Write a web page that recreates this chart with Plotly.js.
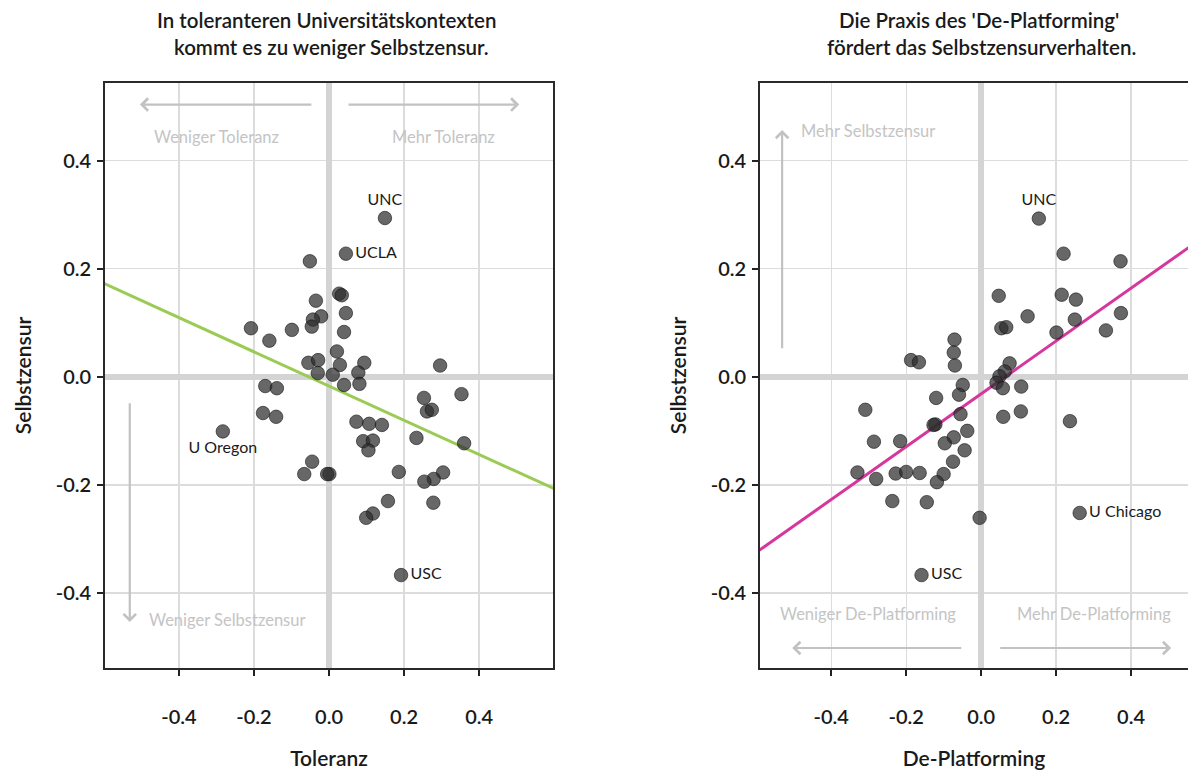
<!DOCTYPE html>
<html>
<head>
<meta charset="utf-8">
<script src="https://cdn.plot.ly/plotly-3.0.1.min.js"></script>
<style>html,body{margin:0;padding:0;background:#fff;}#chart{width:1188px;height:771px;}</style>
</head>
<body>
<div id="chart"></div>
<script>
// ---- Left panel: Toleranz vs. Selbstzensur (labelled points first) ----
var tolNames = ['UNC', 'UCLA', 'U Oregon', 'USC'];
var tolTextPos = ['top center', 'middle right', 'bottom center', 'middle right'];
var tolX = [0.149, 0.045, -0.283, 0.192, -0.051, 0.027, 0.034, -0.035, 0.045, -0.021, -0.043, -0.046, -0.208, -0.099, 0.040, -0.159, 0.021, -0.055, -0.029, 0.029, 0.094, -0.030, 0.010, 0.078, 0.040, 0.081, 0.296, -0.170, -0.139, -0.176, -0.141, 0.253, 0.353, 0.261, 0.274, 0.073, 0.107, 0.141, 0.233, 0.360, 0.091, 0.117, 0.105, -0.045, -0.066, 0.001, -0.005, 0.186, 0.304, 0.279, 0.254, 0.157, 0.278, 0.117, 0.099];
var tolY = [0.294, 0.228, -0.101, -0.367, 0.214, 0.154, 0.151, 0.141, 0.118, 0.112, 0.106, 0.093, 0.090, 0.087, 0.083, 0.067, 0.047, 0.026, 0.031, 0.022, 0.026, 0.007, 0.004, 0.008, -0.015, -0.013, 0.021, -0.017, -0.021, -0.067, -0.074, -0.039, -0.032, -0.064, -0.061, -0.083, -0.087, -0.089, -0.113, -0.123, -0.119, -0.118, -0.136, -0.157, -0.180, -0.180, -0.180, -0.176, -0.177, -0.189, -0.194, -0.230, -0.233, -0.253, -0.261];
var tolFitX = [-0.6, 0.6];
var tolFitY = [0.173, -0.207];

// ---- Right panel: De-Platforming vs. Selbstzensur (labelled points first) ----
var depNames = ['UNC', 'U Chicago', 'USC'];
var depTextPos = ['top center', 'middle right', 'middle right'];
var depX = [0.154, 0.263, -0.159, 0.220, 0.372, 0.047, 0.215, 0.253, 0.124, 0.250, 0.373, 0.054, 0.067, 0.201, 0.333, 0.076, 0.063, 0.049, 0.041, 0.058, 0.107, 0.059, 0.106, 0.237, -0.071, -0.073, -0.070, -0.187, -0.166, -0.049, -0.059, -0.120, -0.309, -0.055, -0.122, -0.127, -0.037, -0.073, -0.097, -0.286, -0.216, -0.044, -0.075, -0.330, -0.280, -0.228, -0.200, -0.164, -0.100, -0.118, -0.237, -0.145, -0.004];
var depY = [0.293, -0.252, -0.367, 0.228, 0.214, 0.150, 0.152, 0.143, 0.112, 0.106, 0.118, 0.090, 0.092, 0.082, 0.086, 0.025, 0.010, 0.001, -0.011, -0.021, -0.018, -0.074, -0.064, -0.082, 0.069, 0.045, 0.021, 0.031, 0.027, -0.015, -0.033, -0.039, -0.061, -0.069, -0.088, -0.089, -0.100, -0.112, -0.123, -0.120, -0.119, -0.136, -0.157, -0.177, -0.189, -0.179, -0.176, -0.178, -0.180, -0.195, -0.230, -0.232, -0.261];
var depFitX = [-0.6, 0.6];
var depFitY = [-0.325, 0.262];

var tickVals = [-0.4, -0.2, 0.0, 0.2, 0.4];
var tickText = ['-0.4', '-0.2', '0.0', '0.2', '0.4'];

var FONT = 'Lato, "Open Sans", "DejaVu Sans", sans-serif';
var markerStyle = {size: 13.5, color: 'rgba(45,45,45,0.72)', line: {width: 1, color: 'rgba(20,20,20,0.6)'}};
var labelFont = {family: FONT, size: 16, color: '#1a1a1a'};

function texts(names, n) { var t = []; for (var i = 0; i < n; i++) t.push(names[i] || ''); return t; }
function positions(pos, n) { var t = []; for (var i = 0; i < n; i++) t.push(pos[i] || 'top center'); return t; }

var traces = [
  {x: tolFitX, y: tolFitY, mode: 'lines', line: {color: '#9bcb54', width: 3}, xaxis: 'x', yaxis: 'y', hoverinfo: 'skip', showlegend: false},
  {x: tolX, y: tolY, mode: 'markers+text', text: texts(tolNames, tolX.length), textposition: positions(tolTextPos, tolX.length),
   textfont: labelFont, marker: markerStyle, xaxis: 'x', yaxis: 'y', showlegend: false, cliponaxis: false},
  {x: depFitX, y: depFitY, mode: 'lines', line: {color: '#d6379c', width: 3}, xaxis: 'x2', yaxis: 'y2', hoverinfo: 'skip', showlegend: false},
  {x: depX, y: depY, mode: 'markers+text', text: texts(depNames, depX.length), textposition: positions(depTextPos, depX.length),
   textfont: labelFont, marker: markerStyle, xaxis: 'x2', yaxis: 'y2', showlegend: false}
];

function xAxis(domain, range, title, mirror) {
  return {
    domain: domain, range: range, tickvals: tickVals, ticktext: tickText,
    ticks: 'outside', ticklen: 6, tickwidth: 1.5, tickcolor: '#222',
    ticklabelstandoff: 24,
    tickfont: {family: FONT, size: 20, color: '#1a1a1a', weight: 600},
    showgrid: true, gridcolor: '#dcdcdc', gridwidth: 1.3,
    zeroline: true, zerolinecolor: '#d4d4d4', zerolinewidth: 6,
    showline: true, linecolor: '#2a2a2a', linewidth: 1.8, mirror: mirror,
    title: {text: title, font: {family: FONT, size: 21, color: '#1a1a1a', weight: 600}, standoff: 24},
    fixedrange: true
  };
}
function yAxis(anchor, title, mirror) {
  return {
    anchor: anchor, domain: [0, 1], range: [-0.539, 0.544], tickvals: tickVals, ticktext: tickText,
    ticks: 'outside', ticklen: 6, tickwidth: 1.5, tickcolor: '#222',
    ticklabelstandoff: 2,
    tickfont: {family: FONT, size: 20, color: '#1a1a1a', weight: 600},
    showgrid: true, gridcolor: '#dcdcdc', gridwidth: 1.3,
    zeroline: true, zerolinecolor: '#d4d4d4', zerolinewidth: 6,
    showline: true, linecolor: '#2a2a2a', linewidth: 1.8, mirror: mirror,
    title: {text: title, font: {family: FONT, size: 21, color: '#1a1a1a', weight: 600}, standoff: 18},
    fixedrange: true
  };
}

var guideColor = '#c2c2c2';
var guideFont = {family: FONT, size: 16.5, color: '#c4c4c4'};
function arrow(xr, yr, x, y, ax, ay) {
  return {xref: xr, yref: yr, axref: xr, ayref: yr, x: x, y: y, ax: ax, ay: ay, text: '',
          showarrow: true, arrowhead: 4, arrowsize: 1.1, arrowwidth: 2.2, arrowcolor: guideColor};
}
function guide(xr, yr, x, y, text, anchor) {
  return {xref: xr, yref: yr, x: x, y: y, text: text, showarrow: false, xanchor: anchor, yanchor: 'middle', font: guideFont};
}
function titleLine(x, y, text) {
  return {xref: 'paper', yref: 'paper', x: x, y: y, text: text, showarrow: false, xanchor: 'center', yanchor: 'middle',
          font: {family: FONT, size: 20.5, color: '#1a1a1a', weight: 600}};
}

var annotations = [
  titleLine(0.2041, 1.1077, 'In toleranteren Universitätskontexten'),
  titleLine(0.2096, 1.0615, 'kommt es zu weniger Selbstzensur.'),
  titleLine(0.8070, 1.1077, "Die Praxis des 'De-Platforming'"),
  titleLine(0.8089, 1.0615, 'fördert das Selbstzensurverhalten.'),
  // left panel guides
  arrow('x', 'y', -0.504, 0.504, -0.043, 0.504),
  arrow('x', 'y', 0.507, 0.504, 0.048, 0.504),
  guide('x', 'y', -0.299, 0.444, 'Weniger Toleranz', 'center'),
  guide('x', 'y', 0.304, 0.444, 'Mehr Toleranz', 'center'),
  arrow('x', 'y', -0.531, -0.454, -0.531, -0.046),
  guide('x', 'y', -0.485, -0.450, 'Weniger Selbstzensur', 'left'),
  // right panel guides
  arrow('x2', 'y2', -0.531, 0.457, -0.531, 0.050),
  guide('x2', 'y2', -0.487, 0.456, 'Mehr Selbstzensur', 'left'),
  arrow('x2', 'y2', -0.504, -0.502, -0.049, -0.502),
  arrow('x2', 'y2', 0.507, -0.502, 0.047, -0.502),
  guide('x2', 'y2', -0.301, -0.439, 'Weniger De-Platforming', 'center'),
  guide('x2', 'y2', 0.301, -0.439, 'Mehr De-Platforming', 'center')
];

var layout = {
  width: 1188, height: 771,
  margin: {l: 105, r: 0, t: 83, b: 103},
  paper_bgcolor: '#ffffff', plot_bgcolor: '#ffffff',
  font: {family: FONT, color: '#1a1a1a'},
  showlegend: false,
  xaxis: xAxis([0, 0.4137], [-0.597, 0.597], 'Toleranz', true),
  yaxis: yAxis('x', 'Selbstzensur', true),
  xaxis2: xAxis([0.6048, 1], [-0.59, 0.552], 'De-Platforming', true),
  yaxis2: yAxis('x2', 'Selbstzensur', false),
  annotations: annotations
};
layout.xaxis.anchor = 'y';
layout.xaxis2.anchor = 'y2';

Plotly.newPlot('chart', traces, layout, {displayModeBar: false, staticPlot: true});
</script>
</body>
</html>
